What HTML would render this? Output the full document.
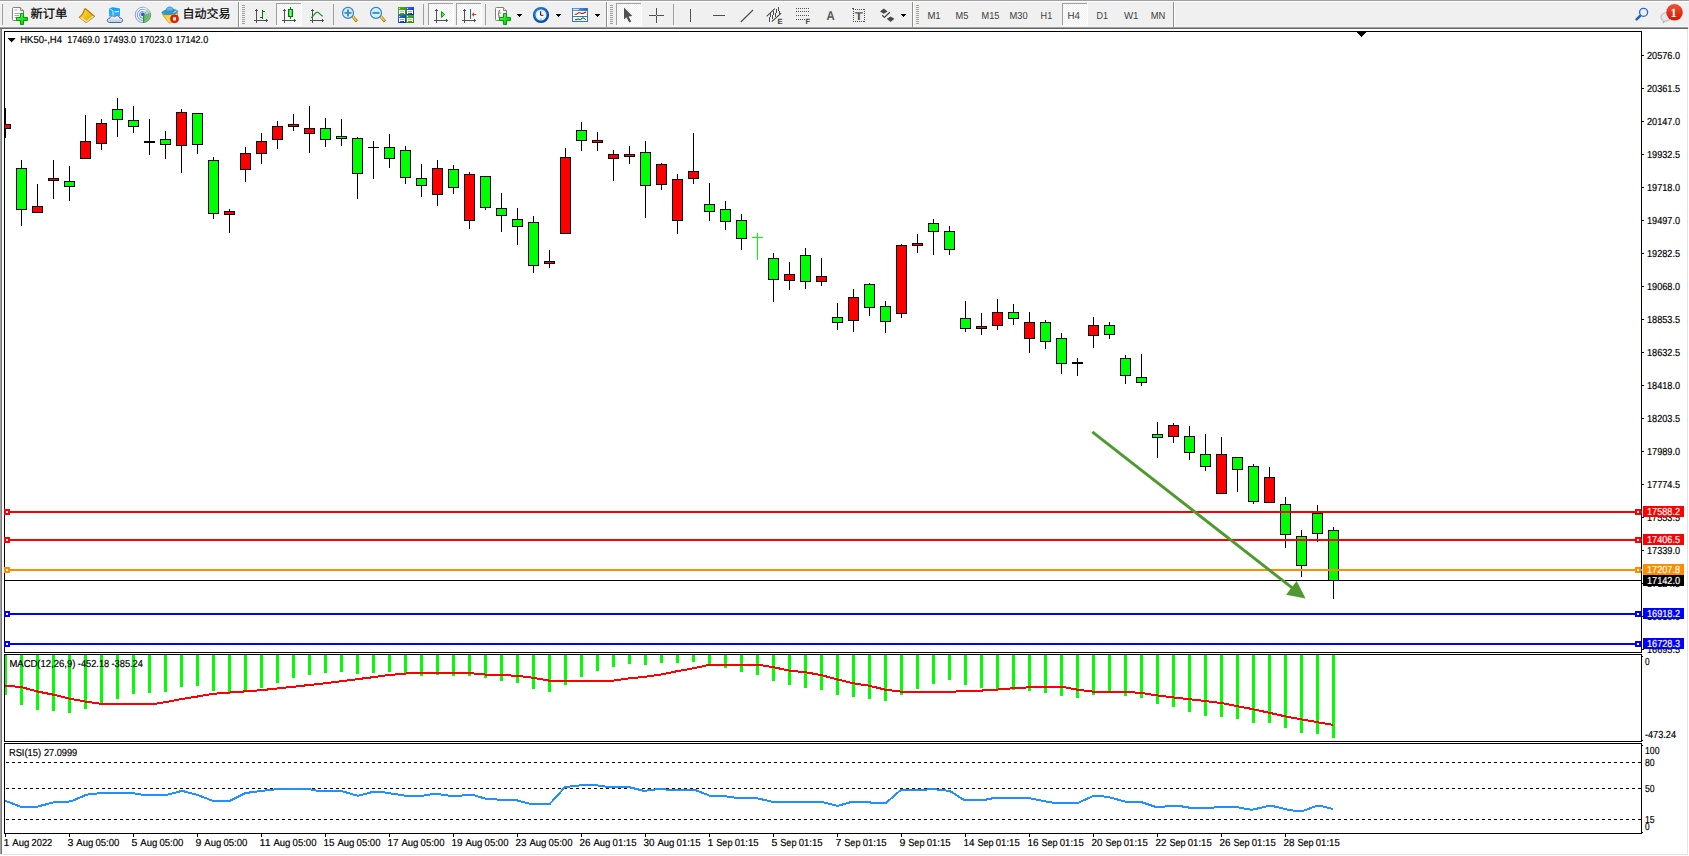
<!DOCTYPE html>
<html><head><meta charset="utf-8"><title>HK50-,H4</title>
<style>
html,body{margin:0;padding:0;background:#fff;overflow:hidden}
body{width:1689px;height:856px;position:relative;font-family:'Liberation Sans','Noto Sans CJK SC',sans-serif}
#tb{position:absolute;left:0;top:0;width:1689px;height:29px}
</style></head><body>
<svg width="1689" height="856" viewBox="0 0 1689 856" style="position:absolute;left:0;top:0" font-family="'Liberation Sans','Noto Sans CJK SC',sans-serif" text-rendering="geometricPrecision">
<defs><clipPath id="cm"><rect x="5" y="32" width="1636" height="620"/></clipPath><clipPath id="cd"><rect x="5" y="655" width="1636" height="86"/></clipPath><clipPath id="cr"><rect x="5" y="744" width="1636" height="89"/></clipPath></defs>
<g shape-rendering="crispEdges">
<rect x="0" y="0" width="1689" height="856" fill="#fff"/>
<rect x="0" y="28" width="1" height="826" fill="#a0a0a0"/>
<rect x="1" y="28" width="1" height="826" fill="#787878"/>
<rect x="1687" y="29" width="1" height="826" fill="#e3e3e3"/>
<rect x="0" y="854" width="1688" height="1" fill="#e3e3e3"/>
<rect x="4" y="31" width="1638" height="1" fill="#000"/>
<rect x="4" y="31" width="1" height="803" fill="#000"/>
<rect x="1641" y="31" width="1" height="803" fill="#000"/>
<rect x="4" y="652" width="1638" height="1" fill="#000"/>
<rect x="4" y="653" width="1638" height="1" fill="#fff"/>
<rect x="4" y="654" width="1638" height="1" fill="#000"/>
<rect x="4" y="741" width="1638" height="1" fill="#000"/>
<rect x="4" y="742" width="1638" height="1" fill="#fff"/>
<rect x="4" y="743" width="1638" height="1" fill="#000"/>
<rect x="4" y="833" width="1638" height="1" fill="#000"/>
</g>
<g clip-path="url(#cm)" shape-rendering="crispEdges">
<rect x="5" y="108" width="1" height="30" fill="#000"/>
<rect x="0" y="124" width="11" height="5" fill="#000"/>
<rect x="1" y="125" width="9" height="3" fill="#ff0000"/>
<rect x="21" y="160" width="1" height="66" fill="#000"/>
<rect x="16" y="168" width="11" height="42" fill="#000"/>
<rect x="17" y="169" width="9" height="40" fill="#00ff00"/>
<rect x="37" y="184" width="1" height="29" fill="#000"/>
<rect x="32" y="206" width="11" height="7" fill="#000"/>
<rect x="33" y="207" width="9" height="5" fill="#ff0000"/>
<rect x="53" y="160" width="1" height="39" fill="#000"/>
<rect x="48" y="178" width="11" height="3" fill="#000"/>
<rect x="49" y="179" width="9" height="1" fill="#ff0000"/>
<rect x="69" y="166" width="1" height="35" fill="#000"/>
<rect x="64" y="181" width="11" height="6" fill="#000"/>
<rect x="65" y="182" width="9" height="4" fill="#00ff00"/>
<rect x="85" y="115" width="1" height="44" fill="#000"/>
<rect x="80" y="141" width="11" height="18" fill="#000"/>
<rect x="81" y="142" width="9" height="16" fill="#ff0000"/>
<rect x="101" y="119" width="1" height="31" fill="#000"/>
<rect x="96" y="123" width="11" height="21" fill="#000"/>
<rect x="97" y="124" width="9" height="19" fill="#ff0000"/>
<rect x="117" y="98" width="1" height="39" fill="#000"/>
<rect x="112" y="109" width="11" height="11" fill="#000"/>
<rect x="113" y="110" width="9" height="9" fill="#00ff00"/>
<rect x="133" y="106" width="1" height="27" fill="#000"/>
<rect x="128" y="120" width="11" height="7" fill="#000"/>
<rect x="129" y="121" width="9" height="5" fill="#00ff00"/>
<rect x="149" y="119" width="1" height="36" fill="#000"/>
<rect x="144" y="141" width="11" height="2" fill="#000"/>
<rect x="165" y="131" width="1" height="28" fill="#000"/>
<rect x="160" y="139" width="11" height="6" fill="#000"/>
<rect x="161" y="140" width="9" height="4" fill="#00ff00"/>
<rect x="181" y="109" width="1" height="64" fill="#000"/>
<rect x="176" y="112" width="11" height="34" fill="#000"/>
<rect x="177" y="113" width="9" height="32" fill="#ff0000"/>
<rect x="197" y="113" width="1" height="41" fill="#000"/>
<rect x="192" y="113" width="11" height="32" fill="#000"/>
<rect x="193" y="114" width="9" height="30" fill="#00ff00"/>
<rect x="213" y="157" width="1" height="62" fill="#000"/>
<rect x="208" y="160" width="11" height="54" fill="#000"/>
<rect x="209" y="161" width="9" height="52" fill="#00ff00"/>
<rect x="229" y="209" width="1" height="24" fill="#000"/>
<rect x="224" y="211" width="11" height="4" fill="#000"/>
<rect x="225" y="212" width="9" height="2" fill="#ff0000"/>
<rect x="245" y="147" width="1" height="35" fill="#000"/>
<rect x="240" y="153" width="11" height="17" fill="#000"/>
<rect x="241" y="154" width="9" height="15" fill="#ff0000"/>
<rect x="261" y="133" width="1" height="31" fill="#000"/>
<rect x="256" y="141" width="11" height="13" fill="#000"/>
<rect x="257" y="142" width="9" height="11" fill="#ff0000"/>
<rect x="277" y="121" width="1" height="28" fill="#000"/>
<rect x="272" y="126" width="11" height="14" fill="#000"/>
<rect x="273" y="127" width="9" height="12" fill="#ff0000"/>
<rect x="293" y="114" width="1" height="17" fill="#000"/>
<rect x="288" y="124" width="11" height="3" fill="#000"/>
<rect x="289" y="125" width="9" height="1" fill="#ff0000"/>
<rect x="309" y="106" width="1" height="47" fill="#000"/>
<rect x="304" y="128" width="11" height="6" fill="#000"/>
<rect x="305" y="129" width="9" height="4" fill="#ff0000"/>
<rect x="325" y="118" width="1" height="29" fill="#000"/>
<rect x="320" y="128" width="11" height="12" fill="#000"/>
<rect x="321" y="129" width="9" height="10" fill="#00ff00"/>
<rect x="341" y="119" width="1" height="27" fill="#000"/>
<rect x="336" y="136" width="11" height="3" fill="#000"/>
<rect x="337" y="137" width="9" height="1" fill="#00ff00"/>
<rect x="357" y="137" width="1" height="62" fill="#000"/>
<rect x="352" y="138" width="11" height="36" fill="#000"/>
<rect x="353" y="139" width="9" height="34" fill="#00ff00"/>
<rect x="373" y="141" width="1" height="38" fill="#000"/>
<rect x="368" y="147" width="11" height="1" fill="#000"/>
<rect x="389" y="134" width="1" height="34" fill="#000"/>
<rect x="384" y="147" width="11" height="12" fill="#000"/>
<rect x="385" y="148" width="9" height="10" fill="#00ff00"/>
<rect x="405" y="146" width="1" height="38" fill="#000"/>
<rect x="400" y="150" width="11" height="28" fill="#000"/>
<rect x="401" y="151" width="9" height="26" fill="#00ff00"/>
<rect x="421" y="164" width="1" height="33" fill="#000"/>
<rect x="416" y="178" width="11" height="8" fill="#000"/>
<rect x="417" y="179" width="9" height="6" fill="#00ff00"/>
<rect x="437" y="160" width="1" height="46" fill="#000"/>
<rect x="432" y="168" width="11" height="27" fill="#000"/>
<rect x="433" y="169" width="9" height="25" fill="#ff0000"/>
<rect x="453" y="165" width="1" height="29" fill="#000"/>
<rect x="448" y="169" width="11" height="19" fill="#000"/>
<rect x="449" y="170" width="9" height="17" fill="#00ff00"/>
<rect x="469" y="172" width="1" height="57" fill="#000"/>
<rect x="464" y="174" width="11" height="47" fill="#000"/>
<rect x="465" y="175" width="9" height="45" fill="#ff0000"/>
<rect x="485" y="176" width="1" height="34" fill="#000"/>
<rect x="480" y="176" width="11" height="32" fill="#000"/>
<rect x="481" y="177" width="9" height="30" fill="#00ff00"/>
<rect x="501" y="193" width="1" height="39" fill="#000"/>
<rect x="496" y="208" width="11" height="8" fill="#000"/>
<rect x="497" y="209" width="9" height="6" fill="#00ff00"/>
<rect x="517" y="208" width="1" height="37" fill="#000"/>
<rect x="512" y="219" width="11" height="8" fill="#000"/>
<rect x="513" y="220" width="9" height="6" fill="#00ff00"/>
<rect x="533" y="216" width="1" height="57" fill="#000"/>
<rect x="528" y="222" width="11" height="44" fill="#000"/>
<rect x="529" y="223" width="9" height="42" fill="#00ff00"/>
<rect x="549" y="250" width="1" height="18" fill="#000"/>
<rect x="544" y="261" width="11" height="3" fill="#000"/>
<rect x="545" y="262" width="9" height="1" fill="#ff0000"/>
<rect x="565" y="148" width="1" height="86" fill="#000"/>
<rect x="560" y="157" width="11" height="77" fill="#000"/>
<rect x="561" y="158" width="9" height="75" fill="#ff0000"/>
<rect x="581" y="122" width="1" height="29" fill="#000"/>
<rect x="576" y="130" width="11" height="11" fill="#000"/>
<rect x="577" y="131" width="9" height="9" fill="#00ff00"/>
<rect x="597" y="132" width="1" height="19" fill="#000"/>
<rect x="592" y="140" width="11" height="3" fill="#000"/>
<rect x="593" y="141" width="9" height="1" fill="#ff0000"/>
<rect x="613" y="150" width="1" height="31" fill="#000"/>
<rect x="608" y="154" width="11" height="5" fill="#000"/>
<rect x="609" y="155" width="9" height="3" fill="#ff0000"/>
<rect x="629" y="146" width="1" height="18" fill="#000"/>
<rect x="624" y="154" width="11" height="3" fill="#000"/>
<rect x="625" y="155" width="9" height="1" fill="#ff0000"/>
<rect x="645" y="141" width="1" height="77" fill="#000"/>
<rect x="640" y="152" width="11" height="34" fill="#000"/>
<rect x="641" y="153" width="9" height="32" fill="#00ff00"/>
<rect x="661" y="163" width="1" height="27" fill="#000"/>
<rect x="656" y="164" width="11" height="21" fill="#000"/>
<rect x="657" y="165" width="9" height="19" fill="#ff0000"/>
<rect x="677" y="174" width="1" height="60" fill="#000"/>
<rect x="672" y="179" width="11" height="42" fill="#000"/>
<rect x="673" y="180" width="9" height="40" fill="#ff0000"/>
<rect x="693" y="133" width="1" height="51" fill="#000"/>
<rect x="688" y="171" width="11" height="8" fill="#000"/>
<rect x="689" y="172" width="9" height="6" fill="#ff0000"/>
<rect x="709" y="183" width="1" height="38" fill="#000"/>
<rect x="704" y="204" width="11" height="8" fill="#000"/>
<rect x="705" y="205" width="9" height="6" fill="#00ff00"/>
<rect x="725" y="201" width="1" height="29" fill="#000"/>
<rect x="720" y="209" width="11" height="13" fill="#000"/>
<rect x="721" y="210" width="9" height="11" fill="#00ff00"/>
<rect x="741" y="214" width="1" height="36" fill="#000"/>
<rect x="736" y="220" width="11" height="19" fill="#000"/>
<rect x="737" y="221" width="9" height="17" fill="#00ff00"/>
<rect x="757" y="233" width="1" height="27" fill="#00ff00"/>
<rect x="752" y="237" width="11" height="1" fill="#00ff00"/>
<rect x="773" y="253" width="1" height="49" fill="#000"/>
<rect x="768" y="258" width="11" height="22" fill="#000"/>
<rect x="769" y="259" width="9" height="20" fill="#00ff00"/>
<rect x="789" y="262" width="1" height="28" fill="#000"/>
<rect x="784" y="274" width="11" height="7" fill="#000"/>
<rect x="785" y="275" width="9" height="5" fill="#ff0000"/>
<rect x="805" y="248" width="1" height="41" fill="#000"/>
<rect x="800" y="255" width="11" height="27" fill="#000"/>
<rect x="801" y="256" width="9" height="25" fill="#00ff00"/>
<rect x="821" y="258" width="1" height="28" fill="#000"/>
<rect x="816" y="276" width="11" height="6" fill="#000"/>
<rect x="817" y="277" width="9" height="4" fill="#ff0000"/>
<rect x="837" y="303" width="1" height="27" fill="#000"/>
<rect x="832" y="317" width="11" height="6" fill="#000"/>
<rect x="833" y="318" width="9" height="4" fill="#00ff00"/>
<rect x="853" y="289" width="1" height="43" fill="#000"/>
<rect x="848" y="297" width="11" height="24" fill="#000"/>
<rect x="849" y="298" width="9" height="22" fill="#ff0000"/>
<rect x="869" y="283" width="1" height="33" fill="#000"/>
<rect x="864" y="284" width="11" height="24" fill="#000"/>
<rect x="865" y="285" width="9" height="22" fill="#00ff00"/>
<rect x="885" y="301" width="1" height="32" fill="#000"/>
<rect x="880" y="306" width="11" height="16" fill="#000"/>
<rect x="881" y="307" width="9" height="14" fill="#00ff00"/>
<rect x="901" y="244" width="1" height="74" fill="#000"/>
<rect x="896" y="245" width="11" height="69" fill="#000"/>
<rect x="897" y="246" width="9" height="67" fill="#ff0000"/>
<rect x="917" y="234" width="1" height="19" fill="#000"/>
<rect x="912" y="243" width="11" height="3" fill="#000"/>
<rect x="913" y="244" width="9" height="1" fill="#ff0000"/>
<rect x="933" y="219" width="1" height="36" fill="#000"/>
<rect x="928" y="223" width="11" height="9" fill="#000"/>
<rect x="929" y="224" width="9" height="7" fill="#00ff00"/>
<rect x="949" y="226" width="1" height="29" fill="#000"/>
<rect x="944" y="231" width="11" height="19" fill="#000"/>
<rect x="945" y="232" width="9" height="17" fill="#00ff00"/>
<rect x="965" y="301" width="1" height="31" fill="#000"/>
<rect x="960" y="318" width="11" height="11" fill="#000"/>
<rect x="961" y="319" width="9" height="9" fill="#00ff00"/>
<rect x="981" y="313" width="1" height="22" fill="#000"/>
<rect x="976" y="326" width="11" height="3" fill="#000"/>
<rect x="977" y="327" width="9" height="1" fill="#ff0000"/>
<rect x="997" y="299" width="1" height="31" fill="#000"/>
<rect x="992" y="312" width="11" height="14" fill="#000"/>
<rect x="993" y="313" width="9" height="12" fill="#ff0000"/>
<rect x="1013" y="304" width="1" height="21" fill="#000"/>
<rect x="1008" y="312" width="11" height="7" fill="#000"/>
<rect x="1009" y="313" width="9" height="5" fill="#00ff00"/>
<rect x="1029" y="312" width="1" height="41" fill="#000"/>
<rect x="1024" y="322" width="11" height="17" fill="#000"/>
<rect x="1025" y="323" width="9" height="15" fill="#ff0000"/>
<rect x="1045" y="320" width="1" height="29" fill="#000"/>
<rect x="1040" y="322" width="11" height="20" fill="#000"/>
<rect x="1041" y="323" width="9" height="18" fill="#00ff00"/>
<rect x="1061" y="333" width="1" height="41" fill="#000"/>
<rect x="1056" y="338" width="11" height="26" fill="#000"/>
<rect x="1057" y="339" width="9" height="24" fill="#00ff00"/>
<rect x="1077" y="358" width="1" height="18" fill="#000"/>
<rect x="1072" y="362" width="11" height="2" fill="#000"/>
<rect x="1093" y="317" width="1" height="31" fill="#000"/>
<rect x="1088" y="325" width="11" height="11" fill="#000"/>
<rect x="1089" y="326" width="9" height="9" fill="#ff0000"/>
<rect x="1109" y="322" width="1" height="17" fill="#000"/>
<rect x="1104" y="325" width="11" height="10" fill="#000"/>
<rect x="1105" y="326" width="9" height="8" fill="#00ff00"/>
<rect x="1125" y="355" width="1" height="29" fill="#000"/>
<rect x="1120" y="358" width="11" height="18" fill="#000"/>
<rect x="1121" y="359" width="9" height="16" fill="#00ff00"/>
<rect x="1141" y="354" width="1" height="32" fill="#000"/>
<rect x="1136" y="377" width="11" height="6" fill="#000"/>
<rect x="1137" y="378" width="9" height="4" fill="#00ff00"/>
<rect x="1157" y="422" width="1" height="36" fill="#000"/>
<rect x="1152" y="434" width="11" height="4" fill="#000"/>
<rect x="1153" y="435" width="9" height="2" fill="#00ff00"/>
<rect x="1173" y="423" width="1" height="20" fill="#000"/>
<rect x="1168" y="425" width="11" height="12" fill="#000"/>
<rect x="1169" y="426" width="9" height="10" fill="#ff0000"/>
<rect x="1189" y="426" width="1" height="34" fill="#000"/>
<rect x="1184" y="436" width="11" height="17" fill="#000"/>
<rect x="1185" y="437" width="9" height="15" fill="#00ff00"/>
<rect x="1205" y="434" width="1" height="37" fill="#000"/>
<rect x="1200" y="454" width="11" height="13" fill="#000"/>
<rect x="1201" y="455" width="9" height="11" fill="#00ff00"/>
<rect x="1221" y="437" width="1" height="57" fill="#000"/>
<rect x="1216" y="454" width="11" height="40" fill="#000"/>
<rect x="1217" y="455" width="9" height="38" fill="#ff0000"/>
<rect x="1237" y="457" width="1" height="35" fill="#000"/>
<rect x="1232" y="457" width="11" height="13" fill="#000"/>
<rect x="1233" y="458" width="9" height="11" fill="#00ff00"/>
<rect x="1253" y="464" width="1" height="40" fill="#000"/>
<rect x="1248" y="466" width="11" height="36" fill="#000"/>
<rect x="1249" y="467" width="9" height="34" fill="#00ff00"/>
<rect x="1269" y="467" width="1" height="36" fill="#000"/>
<rect x="1264" y="477" width="11" height="26" fill="#000"/>
<rect x="1265" y="478" width="9" height="24" fill="#ff0000"/>
<rect x="1285" y="497" width="1" height="51" fill="#000"/>
<rect x="1280" y="504" width="11" height="31" fill="#000"/>
<rect x="1281" y="505" width="9" height="29" fill="#00ff00"/>
<rect x="1301" y="530" width="1" height="47" fill="#000"/>
<rect x="1296" y="536" width="11" height="30" fill="#000"/>
<rect x="1297" y="537" width="9" height="28" fill="#00ff00"/>
<rect x="1317" y="505" width="1" height="37" fill="#000"/>
<rect x="1312" y="513" width="11" height="21" fill="#000"/>
<rect x="1313" y="514" width="9" height="19" fill="#00ff00"/>
<rect x="1333" y="527" width="1" height="72" fill="#000"/>
<rect x="1328" y="530" width="11" height="51" fill="#000"/>
<rect x="1329" y="531" width="9" height="49" fill="#00ff00"/>
</g>
<g shape-rendering="crispEdges">
<rect x="5" y="511" width="1637" height="2" fill="#ff0000"/>
<rect x="4" y="509" width="6" height="6" fill="#ff0000"/>
<rect x="6" y="511" width="2" height="2" fill="#fff"/>
<rect x="1635" y="509" width="6" height="6" fill="#ff0000"/>
<rect x="1637" y="511" width="2" height="2" fill="#fff"/>
<rect x="5" y="539" width="1637" height="2" fill="#ff0000"/>
<rect x="4" y="537" width="6" height="6" fill="#ff0000"/>
<rect x="6" y="539" width="2" height="2" fill="#fff"/>
<rect x="1635" y="537" width="6" height="6" fill="#ff0000"/>
<rect x="1637" y="539" width="2" height="2" fill="#fff"/>
<rect x="5" y="569" width="1637" height="2" fill="#ff8c00"/>
<rect x="4" y="567" width="6" height="6" fill="#ff8c00"/>
<rect x="6" y="569" width="2" height="2" fill="#fff"/>
<rect x="1635" y="567" width="6" height="6" fill="#ff8c00"/>
<rect x="1637" y="569" width="2" height="2" fill="#fff"/>
<rect x="5" y="580" width="1637" height="1" fill="#000000"/>
<rect x="5" y="613" width="1637" height="2" fill="#0000ff"/>
<rect x="4" y="611" width="6" height="6" fill="#0000ff"/>
<rect x="6" y="613" width="2" height="2" fill="#fff"/>
<rect x="1635" y="611" width="6" height="6" fill="#0000ff"/>
<rect x="1637" y="613" width="2" height="2" fill="#fff"/>
<rect x="5" y="643" width="1637" height="2" fill="#0000ff"/>
<rect x="4" y="641" width="6" height="6" fill="#0000ff"/>
<rect x="6" y="643" width="2" height="2" fill="#fff"/>
<rect x="1635" y="641" width="6" height="6" fill="#0000ff"/>
<rect x="1637" y="643" width="2" height="2" fill="#fff"/>
</g>
<g clip-path="url(#cm)" shape-rendering="crispEdges">
<rect x="1285" y="497" width="1" height="51" fill="#000"/>
<rect x="1280" y="504" width="11" height="31" fill="#000"/>
<rect x="1281" y="505" width="9" height="29" fill="#00ff00"/>
<rect x="1301" y="530" width="1" height="47" fill="#000"/>
<rect x="1296" y="536" width="11" height="30" fill="#000"/>
<rect x="1297" y="537" width="9" height="28" fill="#00ff00"/>
<rect x="1317" y="505" width="1" height="37" fill="#000"/>
<rect x="1312" y="513" width="11" height="21" fill="#000"/>
<rect x="1313" y="514" width="9" height="19" fill="#00ff00"/>
<rect x="1333" y="527" width="1" height="72" fill="#000"/>
<rect x="1328" y="530" width="11" height="51" fill="#000"/>
<rect x="1329" y="531" width="9" height="49" fill="#00ff00"/>
</g>
<g shape-rendering="crispEdges">
<rect x="1279" y="511" width="62" height="2" fill="#ff0000"/>
<rect x="1279" y="539" width="62" height="2" fill="#ff0000"/>
<rect x="1279" y="569" width="62" height="2" fill="#ff8c00"/>
<rect x="1279" y="580" width="62" height="1" fill="#000000"/>
<rect x="1279" y="613" width="62" height="2" fill="#0000ff"/>
<rect x="1279" y="643" width="62" height="2" fill="#0000ff"/>
</g>
<g fill="#4f9a2f" stroke="none">
<path d="M1091.4,433.1 L1093.2,430.7 L1294.4,587.7 L1292.6,590.1 Z"/>
<path d="M1305.6,598.4 L1286.1,594.8 L1296.7,581.0 Z"/>
</g>
<g clip-path="url(#cd)" shape-rendering="crispEdges">
<rect x="4" y="655" width="3" height="40" fill="#00ff00"/>
<rect x="20" y="655" width="3" height="50" fill="#00ff00"/>
<rect x="36" y="655" width="3" height="55" fill="#00ff00"/>
<rect x="52" y="655" width="3" height="56" fill="#00ff00"/>
<rect x="68" y="655" width="3" height="58" fill="#00ff00"/>
<rect x="84" y="655" width="3" height="54" fill="#00ff00"/>
<rect x="100" y="655" width="3" height="48" fill="#00ff00"/>
<rect x="116" y="655" width="3" height="44" fill="#00ff00"/>
<rect x="132" y="655" width="3" height="39" fill="#00ff00"/>
<rect x="148" y="655" width="3" height="38" fill="#00ff00"/>
<rect x="164" y="655" width="3" height="37" fill="#00ff00"/>
<rect x="180" y="655" width="3" height="32" fill="#00ff00"/>
<rect x="196" y="655" width="3" height="31" fill="#00ff00"/>
<rect x="212" y="655" width="3" height="36" fill="#00ff00"/>
<rect x="228" y="655" width="3" height="38" fill="#00ff00"/>
<rect x="244" y="655" width="3" height="36" fill="#00ff00"/>
<rect x="260" y="655" width="3" height="33" fill="#00ff00"/>
<rect x="276" y="655" width="3" height="28" fill="#00ff00"/>
<rect x="292" y="655" width="3" height="23" fill="#00ff00"/>
<rect x="308" y="655" width="3" height="20" fill="#00ff00"/>
<rect x="324" y="655" width="3" height="18" fill="#00ff00"/>
<rect x="340" y="655" width="3" height="17" fill="#00ff00"/>
<rect x="356" y="655" width="3" height="19" fill="#00ff00"/>
<rect x="372" y="655" width="3" height="18" fill="#00ff00"/>
<rect x="388" y="655" width="3" height="17" fill="#00ff00"/>
<rect x="404" y="655" width="3" height="19" fill="#00ff00"/>
<rect x="420" y="655" width="3" height="21" fill="#00ff00"/>
<rect x="436" y="655" width="3" height="20" fill="#00ff00"/>
<rect x="452" y="655" width="3" height="21" fill="#00ff00"/>
<rect x="468" y="655" width="3" height="21" fill="#00ff00"/>
<rect x="484" y="655" width="3" height="23" fill="#00ff00"/>
<rect x="500" y="655" width="3" height="26" fill="#00ff00"/>
<rect x="516" y="655" width="3" height="28" fill="#00ff00"/>
<rect x="532" y="655" width="3" height="34" fill="#00ff00"/>
<rect x="548" y="655" width="3" height="37" fill="#00ff00"/>
<rect x="564" y="655" width="3" height="30" fill="#00ff00"/>
<rect x="580" y="655" width="3" height="22" fill="#00ff00"/>
<rect x="596" y="655" width="3" height="16" fill="#00ff00"/>
<rect x="612" y="655" width="3" height="12" fill="#00ff00"/>
<rect x="628" y="655" width="3" height="9" fill="#00ff00"/>
<rect x="644" y="655" width="3" height="10" fill="#00ff00"/>
<rect x="660" y="655" width="3" height="8" fill="#00ff00"/>
<rect x="676" y="655" width="3" height="8" fill="#00ff00"/>
<rect x="692" y="655" width="3" height="7" fill="#00ff00"/>
<rect x="708" y="655" width="3" height="10" fill="#00ff00"/>
<rect x="724" y="655" width="3" height="13" fill="#00ff00"/>
<rect x="740" y="655" width="3" height="17" fill="#00ff00"/>
<rect x="756" y="655" width="3" height="20" fill="#00ff00"/>
<rect x="772" y="655" width="3" height="26" fill="#00ff00"/>
<rect x="788" y="655" width="3" height="30" fill="#00ff00"/>
<rect x="804" y="655" width="3" height="33" fill="#00ff00"/>
<rect x="820" y="655" width="3" height="35" fill="#00ff00"/>
<rect x="836" y="655" width="3" height="40" fill="#00ff00"/>
<rect x="852" y="655" width="3" height="42" fill="#00ff00"/>
<rect x="868" y="655" width="3" height="44" fill="#00ff00"/>
<rect x="884" y="655" width="3" height="46" fill="#00ff00"/>
<rect x="900" y="655" width="3" height="40" fill="#00ff00"/>
<rect x="916" y="655" width="3" height="34" fill="#00ff00"/>
<rect x="932" y="655" width="3" height="29" fill="#00ff00"/>
<rect x="948" y="655" width="3" height="25" fill="#00ff00"/>
<rect x="964" y="655" width="3" height="30" fill="#00ff00"/>
<rect x="980" y="655" width="3" height="33" fill="#00ff00"/>
<rect x="996" y="655" width="3" height="35" fill="#00ff00"/>
<rect x="1012" y="655" width="3" height="35" fill="#00ff00"/>
<rect x="1028" y="655" width="3" height="36" fill="#00ff00"/>
<rect x="1044" y="655" width="3" height="38" fill="#00ff00"/>
<rect x="1060" y="655" width="3" height="41" fill="#00ff00"/>
<rect x="1076" y="655" width="3" height="43" fill="#00ff00"/>
<rect x="1092" y="655" width="3" height="40" fill="#00ff00"/>
<rect x="1108" y="655" width="3" height="38" fill="#00ff00"/>
<rect x="1124" y="655" width="3" height="41" fill="#00ff00"/>
<rect x="1140" y="655" width="3" height="43" fill="#00ff00"/>
<rect x="1156" y="655" width="3" height="49" fill="#00ff00"/>
<rect x="1172" y="655" width="3" height="52" fill="#00ff00"/>
<rect x="1188" y="655" width="3" height="57" fill="#00ff00"/>
<rect x="1204" y="655" width="3" height="61" fill="#00ff00"/>
<rect x="1220" y="655" width="3" height="62" fill="#00ff00"/>
<rect x="1236" y="655" width="3" height="64" fill="#00ff00"/>
<rect x="1252" y="655" width="3" height="68" fill="#00ff00"/>
<rect x="1268" y="655" width="3" height="68" fill="#00ff00"/>
<rect x="1284" y="655" width="3" height="73" fill="#00ff00"/>
<rect x="1300" y="655" width="3" height="78" fill="#00ff00"/>
<rect x="1316" y="655" width="3" height="79" fill="#00ff00"/>
<rect x="1332" y="655" width="3" height="83" fill="#00ff00"/>
</g>
<polyline clip-path="url(#cd)" points="5,685.7 21,687 37,691.4 53,694.6 69,698.5 85,701.5 101,703.8 155,703.8 165,702.2 181,699.2 197,696.6 213,693.8 229,692.6 245,691.4 261,690.2 277,688.5 293,686.8 309,685 325,683.3 341,681.3 357,679.2 373,677.2 389,675 405,673.6 421,672.5 453,672.6 469,673 485,674.5 501,675 517,675.8 533,677.8 549,680.6 613,680.6 629,678.4 645,676.8 661,674.5 677,671.2 693,668.4 709,664.9 725,664.6 757,664.6 773,667.1 789,670.5 805,672.2 821,675 837,679.4 853,683.2 869,685.7 885,689.6 901,691.6 917,691.8 949,691.8 965,691.1 981,690.6 997,689.6 1013,688.3 1029,687.3 1045,686.5 1061,686.5 1077,689.6 1093,691.6 1109,691.8 1125,691.8 1141,692.9 1157,695.4 1173,697.4 1189,699.2 1205,701 1221,703 1237,706.1 1253,709.2 1269,712.7 1285,716.3 1301,719.3 1317,722.1 1333,724.9" fill="none" stroke="#ff0000" stroke-width="2" stroke-linejoin="round" shape-rendering="crispEdges"/>
<g shape-rendering="crispEdges" stroke="#000" stroke-width="1" stroke-dasharray="3 3">
<line x1="6" y1="762.5" x2="1641" y2="762.5"/>
<line x1="6" y1="788.5" x2="1641" y2="788.5"/>
<line x1="6" y1="819.5" x2="1641" y2="819.5"/>
</g>
<polyline clip-path="url(#cr)" points="5,800.6 20.4,806.7 37,806.7 53.5,802.4 71,801.4 86.5,794.7 102,793 132,793 142.5,794.7 167,794.7 182,790.9 197,794.7 212.6,800.8 230,800.8 245.7,793 262,790.9 279,788.9 308,788.9 318,790.9 341,790.9 357.7,795.8 373,791.9 384,792.4 406,795.8 422.6,795.8 435,793.7 450.5,795.8 460.7,795.8 464.5,794.7 472,794.7 486,798.8 501.5,799.8 516.7,800.3 530.7,803.9 549.8,803.9 565,787.1 583,785.1 595.7,785.1 607,786.8 628.8,787.1 644,790.9 659.3,788.9 670.8,789.9 695,789.9 710,795.8 724,796 735.7,797.8 756,798 771.3,801.6 822,801.9 837.5,805.9 851.6,801.9 868,801.9 872,802.9 886,802.9 901,789.9 924,789.9 932,788.9 949.7,790.9 963.7,799.8 985,799.8 994,798 1028.6,798 1046.4,801.6 1054,802.9 1078,802.9 1093.5,795.8 1100,795.8 1110,797.5 1125.3,801.6 1140.6,801.9 1155.9,807 1163.5,807 1167.3,805.9 1178.8,805.9 1191.5,808 1211.9,808 1215.7,807 1236,807 1251.3,809.8 1259,808.2 1269,805.9 1274,806.4 1287,809.5 1294.6,810.8 1303.5,810.8 1316.3,805.9 1321.4,806.2 1333.3,809" fill="none" stroke="#1e90ff" stroke-width="2" stroke-linejoin="round" shape-rendering="crispEdges"/>
<g shape-rendering="crispEdges" fill="#000">
<rect x="1642" y="55" width="2" height="1"/>
<rect x="1642" y="88" width="2" height="1"/>
<rect x="1642" y="121" width="2" height="1"/>
<rect x="1642" y="154" width="2" height="1"/>
<rect x="1642" y="187" width="2" height="1"/>
<rect x="1642" y="220" width="2" height="1"/>
<rect x="1642" y="253" width="2" height="1"/>
<rect x="1642" y="286" width="2" height="1"/>
<rect x="1642" y="319" width="2" height="1"/>
<rect x="1642" y="352" width="2" height="1"/>
<rect x="1642" y="385" width="2" height="1"/>
<rect x="1642" y="418" width="2" height="1"/>
<rect x="1642" y="451" width="2" height="1"/>
<rect x="1642" y="484" width="2" height="1"/>
<rect x="1642" y="517" width="2" height="1"/>
<rect x="1642" y="550" width="2" height="1"/>
<rect x="1642" y="583" width="2" height="1"/>
<rect x="1642" y="616" width="2" height="1"/>
<rect x="1642" y="649" width="2" height="1"/>
<rect x="1642" y="656" width="1" height="1"/>
<rect x="1642" y="740" width="1" height="1"/>
<rect x="1642" y="745" width="1" height="1"/>
<rect x="1642" y="832" width="1" height="1"/>
<rect x="5" y="834" width="1" height="3"/>
<rect x="69" y="834" width="1" height="3"/>
<rect x="133" y="834" width="1" height="3"/>
<rect x="197" y="834" width="1" height="3"/>
<rect x="261" y="834" width="1" height="3"/>
<rect x="325" y="834" width="1" height="3"/>
<rect x="389" y="834" width="1" height="3"/>
<rect x="453" y="834" width="1" height="3"/>
<rect x="517" y="834" width="1" height="3"/>
<rect x="581" y="834" width="1" height="3"/>
<rect x="645" y="834" width="1" height="3"/>
<rect x="709" y="834" width="1" height="3"/>
<rect x="773" y="834" width="1" height="3"/>
<rect x="837" y="834" width="1" height="3"/>
<rect x="901" y="834" width="1" height="3"/>
<rect x="965" y="834" width="1" height="3"/>
<rect x="1029" y="834" width="1" height="3"/>
<rect x="1093" y="834" width="1" height="3"/>
<rect x="1157" y="834" width="1" height="3"/>
<rect x="1221" y="834" width="1" height="3"/>
<rect x="1285" y="834" width="1" height="3"/>
</g>
<g font-size="10.2" fill="#000" stroke="#000" stroke-width="0.18">
<text x="1647" y="59" textLength="33" lengthAdjust="spacingAndGlyphs">20576.0</text>
<text x="1647" y="92" textLength="33" lengthAdjust="spacingAndGlyphs">20361.5</text>
<text x="1647" y="125" textLength="33" lengthAdjust="spacingAndGlyphs">20147.0</text>
<text x="1647" y="158" textLength="33" lengthAdjust="spacingAndGlyphs">19932.5</text>
<text x="1647" y="191" textLength="33" lengthAdjust="spacingAndGlyphs">19718.0</text>
<text x="1647" y="224" textLength="33" lengthAdjust="spacingAndGlyphs">19497.0</text>
<text x="1647" y="257" textLength="33" lengthAdjust="spacingAndGlyphs">19282.5</text>
<text x="1647" y="290" textLength="33" lengthAdjust="spacingAndGlyphs">19068.0</text>
<text x="1647" y="323" textLength="33" lengthAdjust="spacingAndGlyphs">18853.5</text>
<text x="1647" y="356" textLength="33" lengthAdjust="spacingAndGlyphs">18632.5</text>
<text x="1647" y="389" textLength="33" lengthAdjust="spacingAndGlyphs">18418.0</text>
<text x="1647" y="422" textLength="33" lengthAdjust="spacingAndGlyphs">18203.5</text>
<text x="1647" y="455" textLength="33" lengthAdjust="spacingAndGlyphs">17989.0</text>
<text x="1647" y="488" textLength="33" lengthAdjust="spacingAndGlyphs">17774.5</text>
<text x="1647" y="521" textLength="33" lengthAdjust="spacingAndGlyphs">17553.5</text>
<text x="1647" y="554" textLength="33" lengthAdjust="spacingAndGlyphs">17339.0</text>
<text x="1647" y="587" textLength="33" lengthAdjust="spacingAndGlyphs">17124.5</text>
<text x="1647" y="620" textLength="33" lengthAdjust="spacingAndGlyphs">16910.0</text>
<text x="1647" y="653" textLength="33" lengthAdjust="spacingAndGlyphs">16695.5</text>
<text x="1645" y="665" textLength="4.6" lengthAdjust="spacingAndGlyphs">0</text>
<text x="1645" y="738" textLength="31" lengthAdjust="spacingAndGlyphs">-473.24</text>
<text x="1645" y="754" textLength="14.5" lengthAdjust="spacingAndGlyphs">100</text>
<text x="1645" y="766" textLength="9.6" lengthAdjust="spacingAndGlyphs">80</text>
<text x="1645" y="792" textLength="9.6" lengthAdjust="spacingAndGlyphs">50</text>
<text x="1645" y="823" textLength="9.6" lengthAdjust="spacingAndGlyphs">15</text>
<text x="1645" y="830" textLength="4.6" lengthAdjust="spacingAndGlyphs">0</text>
</g>
<g shape-rendering="crispEdges">
<rect x="1643" y="506" width="41" height="11" fill="#ff0000"/>
<rect x="1643" y="534" width="41" height="11" fill="#ff0000"/>
<rect x="1643" y="564" width="41" height="11" fill="#ff8c00"/>
<rect x="1643" y="575" width="41" height="11" fill="#000000"/>
<rect x="1643" y="608" width="41" height="11" fill="#0000ff"/>
<rect x="1643" y="638" width="41" height="11" fill="#0000ff"/>
</g>
<g font-size="10.2" fill="#fff" stroke="#fff" stroke-width="0.18">
<text x="1647" y="515" textLength="33" lengthAdjust="spacingAndGlyphs">17588.2</text>
<text x="1647" y="543" textLength="33" lengthAdjust="spacingAndGlyphs">17406.5</text>
<text x="1647" y="573" textLength="33" lengthAdjust="spacingAndGlyphs">17207.8</text>
<text x="1647" y="584" textLength="33" lengthAdjust="spacingAndGlyphs">17142.0</text>
<text x="1647" y="617" textLength="33" lengthAdjust="spacingAndGlyphs">16918.2</text>
<text x="1647" y="647" textLength="33" lengthAdjust="spacingAndGlyphs">16728.3</text>
</g>
<g font-size="10.2" fill="#000" stroke="#000" stroke-width="0.18">
<text x="3.6" y="846" textLength="5.9" lengthAdjust="spacingAndGlyphs">1</text>
<text x="12.3" y="846" textLength="17.0" lengthAdjust="spacingAndGlyphs">Aug</text>
<text x="31.5" y="846" textLength="20.8" lengthAdjust="spacingAndGlyphs">2022</text>
<text x="67.6" y="846" textLength="5.9" lengthAdjust="spacingAndGlyphs">3</text>
<text x="76.3" y="846" textLength="17.0" lengthAdjust="spacingAndGlyphs">Aug</text>
<text x="95.5" y="846" textLength="23.9" lengthAdjust="spacingAndGlyphs">05:00</text>
<text x="131.6" y="846" textLength="5.9" lengthAdjust="spacingAndGlyphs">5</text>
<text x="140.3" y="846" textLength="17.0" lengthAdjust="spacingAndGlyphs">Aug</text>
<text x="159.5" y="846" textLength="23.9" lengthAdjust="spacingAndGlyphs">05:00</text>
<text x="195.6" y="846" textLength="5.9" lengthAdjust="spacingAndGlyphs">9</text>
<text x="204.3" y="846" textLength="17.0" lengthAdjust="spacingAndGlyphs">Aug</text>
<text x="223.5" y="846" textLength="23.9" lengthAdjust="spacingAndGlyphs">05:00</text>
<text x="259.6" y="846" textLength="11.0" lengthAdjust="spacingAndGlyphs">11</text>
<text x="273.4" y="846" textLength="17.0" lengthAdjust="spacingAndGlyphs">Aug</text>
<text x="292.6" y="846" textLength="23.9" lengthAdjust="spacingAndGlyphs">05:00</text>
<text x="323.6" y="846" textLength="11.0" lengthAdjust="spacingAndGlyphs">15</text>
<text x="337.4" y="846" textLength="17.0" lengthAdjust="spacingAndGlyphs">Aug</text>
<text x="356.6" y="846" textLength="23.9" lengthAdjust="spacingAndGlyphs">05:00</text>
<text x="387.6" y="846" textLength="11.0" lengthAdjust="spacingAndGlyphs">17</text>
<text x="401.4" y="846" textLength="17.0" lengthAdjust="spacingAndGlyphs">Aug</text>
<text x="420.6" y="846" textLength="23.9" lengthAdjust="spacingAndGlyphs">05:00</text>
<text x="451.6" y="846" textLength="11.0" lengthAdjust="spacingAndGlyphs">19</text>
<text x="465.4" y="846" textLength="17.0" lengthAdjust="spacingAndGlyphs">Aug</text>
<text x="484.6" y="846" textLength="23.9" lengthAdjust="spacingAndGlyphs">05:00</text>
<text x="515.6" y="846" textLength="11.0" lengthAdjust="spacingAndGlyphs">23</text>
<text x="529.4" y="846" textLength="17.0" lengthAdjust="spacingAndGlyphs">Aug</text>
<text x="548.6" y="846" textLength="23.9" lengthAdjust="spacingAndGlyphs">05:00</text>
<text x="579.6" y="846" textLength="11.0" lengthAdjust="spacingAndGlyphs">26</text>
<text x="593.4" y="846" textLength="17.0" lengthAdjust="spacingAndGlyphs">Aug</text>
<text x="612.6" y="846" textLength="23.9" lengthAdjust="spacingAndGlyphs">01:15</text>
<text x="643.6" y="846" textLength="11.0" lengthAdjust="spacingAndGlyphs">30</text>
<text x="657.4" y="846" textLength="17.0" lengthAdjust="spacingAndGlyphs">Aug</text>
<text x="676.6" y="846" textLength="23.9" lengthAdjust="spacingAndGlyphs">01:15</text>
<text x="707.6" y="846" textLength="5.9" lengthAdjust="spacingAndGlyphs">1</text>
<text x="716.3" y="846" textLength="16.2" lengthAdjust="spacingAndGlyphs">Sep</text>
<text x="734.7" y="846" textLength="23.9" lengthAdjust="spacingAndGlyphs">01:15</text>
<text x="771.6" y="846" textLength="5.9" lengthAdjust="spacingAndGlyphs">5</text>
<text x="780.3" y="846" textLength="16.2" lengthAdjust="spacingAndGlyphs">Sep</text>
<text x="798.7" y="846" textLength="23.9" lengthAdjust="spacingAndGlyphs">01:15</text>
<text x="835.6" y="846" textLength="5.9" lengthAdjust="spacingAndGlyphs">7</text>
<text x="844.3" y="846" textLength="16.2" lengthAdjust="spacingAndGlyphs">Sep</text>
<text x="862.7" y="846" textLength="23.9" lengthAdjust="spacingAndGlyphs">01:15</text>
<text x="899.6" y="846" textLength="5.9" lengthAdjust="spacingAndGlyphs">9</text>
<text x="908.3" y="846" textLength="16.2" lengthAdjust="spacingAndGlyphs">Sep</text>
<text x="926.7" y="846" textLength="23.9" lengthAdjust="spacingAndGlyphs">01:15</text>
<text x="963.6" y="846" textLength="11.0" lengthAdjust="spacingAndGlyphs">14</text>
<text x="977.4" y="846" textLength="16.2" lengthAdjust="spacingAndGlyphs">Sep</text>
<text x="995.8" y="846" textLength="23.9" lengthAdjust="spacingAndGlyphs">01:15</text>
<text x="1027.6" y="846" textLength="11.0" lengthAdjust="spacingAndGlyphs">16</text>
<text x="1041.4" y="846" textLength="16.2" lengthAdjust="spacingAndGlyphs">Sep</text>
<text x="1059.8" y="846" textLength="23.9" lengthAdjust="spacingAndGlyphs">01:15</text>
<text x="1091.6" y="846" textLength="11.0" lengthAdjust="spacingAndGlyphs">20</text>
<text x="1105.4" y="846" textLength="16.2" lengthAdjust="spacingAndGlyphs">Sep</text>
<text x="1123.8" y="846" textLength="23.9" lengthAdjust="spacingAndGlyphs">01:15</text>
<text x="1155.6" y="846" textLength="11.0" lengthAdjust="spacingAndGlyphs">22</text>
<text x="1169.4" y="846" textLength="16.2" lengthAdjust="spacingAndGlyphs">Sep</text>
<text x="1187.8" y="846" textLength="23.9" lengthAdjust="spacingAndGlyphs">01:15</text>
<text x="1219.6" y="846" textLength="11.0" lengthAdjust="spacingAndGlyphs">26</text>
<text x="1233.4" y="846" textLength="16.2" lengthAdjust="spacingAndGlyphs">Sep</text>
<text x="1251.8" y="846" textLength="23.9" lengthAdjust="spacingAndGlyphs">01:15</text>
<text x="1283.6" y="846" textLength="11.0" lengthAdjust="spacingAndGlyphs">28</text>
<text x="1297.4" y="846" textLength="16.2" lengthAdjust="spacingAndGlyphs">Sep</text>
<text x="1315.8" y="846" textLength="23.9" lengthAdjust="spacingAndGlyphs">01:15</text>
</g>
<g font-size="10.2" fill="#000" stroke="#000" stroke-width="0.18">
<path d="M8,38 H15 V39 H14 V40 H13 V41 H12 V42 H11 V41 H10 V40 H9 V39 H8 Z" fill="#000" shape-rendering="crispEdges"/>
<text x="20.2" y="43" textLength="41.8" lengthAdjust="spacingAndGlyphs">HK50-,H4</text>
<text x="67.2" y="43" textLength="32.5" lengthAdjust="spacingAndGlyphs">17469.0</text>
<text x="103.2" y="43" textLength="33.0" lengthAdjust="spacingAndGlyphs">17493.0</text>
<text x="139.2" y="43" textLength="33.0" lengthAdjust="spacingAndGlyphs">17023.0</text>
<text x="175.4" y="43" textLength="32.8" lengthAdjust="spacingAndGlyphs">17142.0</text>
<text x="9.4" y="667" textLength="66.0" lengthAdjust="spacingAndGlyphs">MACD(12,26,9)</text>
<text x="77.8" y="667" textLength="31.4" lengthAdjust="spacingAndGlyphs">-452.18</text>
<text x="111.5" y="667" textLength="31.4" lengthAdjust="spacingAndGlyphs">-385.24</text>
<text x="8.9" y="756" textLength="32.2" lengthAdjust="spacingAndGlyphs">RSI(15)</text>
<text x="43.9" y="756" textLength="33.3" lengthAdjust="spacingAndGlyphs">27.0999</text>
</g>
<g shape-rendering="crispEdges" fill="#000"><rect x="1357" y="32" width="9" height="1"/><rect x="1358" y="33" width="7" height="1"/><rect x="1359" y="34" width="5" height="1"/><rect x="1360" y="35" width="3" height="1"/><rect x="1361" y="36" width="1" height="1"/></g>
</svg>
<div id="tb"><svg width="1689" height="29" viewBox="0 0 1689 29" style="position:absolute;left:0;top:0" font-family="'Liberation Sans','Noto Sans CJK SC',sans-serif" text-rendering="geometricPrecision">
<defs>
<linearGradient id="gplus" x1="0" y1="0" x2="1" y2="1"><stop offset="0" stop-color="#7dff7d"/><stop offset="0.5" stop-color="#22e622"/><stop offset="1" stop-color="#00b400"/></linearGradient>
<linearGradient id="gbook" x1="0" y1="0" x2="1" y2="1"><stop offset="0" stop-color="#ffe860"/><stop offset="0.5" stop-color="#f0c018"/><stop offset="1" stop-color="#d89a10"/></linearGradient>
<linearGradient id="gcloud" x1="0" y1="0" x2="0" y2="1"><stop offset="0" stop-color="#ffffff"/><stop offset="1" stop-color="#b8c6dc"/></linearGradient>
<linearGradient id="gbox" x1="0" y1="0" x2="0" y2="1"><stop offset="0" stop-color="#0a9cff"/><stop offset="1" stop-color="#35b6ff"/></linearGradient>
<linearGradient id="gred" x1="0" y1="0" x2="0" y2="1"><stop offset="0" stop-color="#ea5636"/><stop offset="1" stop-color="#d81400"/></linearGradient>
<linearGradient id="ghat" x1="0" y1="0" x2="0" y2="1"><stop offset="0" stop-color="#7cc8f0"/><stop offset="1" stop-color="#3a98d8"/></linearGradient>
<linearGradient id="gface" x1="0" y1="0" x2="1" y2="1"><stop offset="0" stop-color="#f0c020"/><stop offset="1" stop-color="#fff080"/></linearGradient>
<radialGradient id="gclock" cx="0.4" cy="0.35" r="0.7"><stop offset="0" stop-color="#30a0ff"/><stop offset="1" stop-color="#0048b0"/></radialGradient>
<linearGradient id="gcandle" x1="0" y1="0" x2="1" y2="0"><stop offset="0" stop-color="#20d040"/><stop offset="0.5" stop-color="#80ff90"/><stop offset="1" stop-color="#20d040"/></linearGradient>
<linearGradient id="ghandle" x1="0" y1="0" x2="1" y2="1"><stop offset="0" stop-color="#fff070"/><stop offset="1" stop-color="#d8b020"/></linearGradient>
<linearGradient id="ggreen" x1="0" y1="0" x2="1" y2="1"><stop offset="0" stop-color="#4cb418"/><stop offset="1" stop-color="#2a9008"/></linearGradient>
<linearGradient id="gblue" x1="0" y1="0" x2="1" y2="1"><stop offset="0" stop-color="#3a6cf0"/><stop offset="1" stop-color="#0828b8"/></linearGradient>
<linearGradient id="gtitle" x1="0" y1="0" x2="1" y2="0"><stop offset="0" stop-color="#6aa8e8"/><stop offset="1" stop-color="#2a68c0"/></linearGradient>
<pattern id="chk" width="2" height="2" patternUnits="userSpaceOnUse"><rect width="2" height="2" fill="#ffffff"/><rect width="1" height="1" fill="#f0f0f0"/><rect x="1" y="1" width="1" height="1" fill="#f0f0f0"/></pattern>
</defs>
<g shape-rendering="crispEdges">
<rect x="0" y="0" width="1689" height="1" fill="#a0a0a0"/>
<rect x="0" y="1" width="1689" height="1" fill="#ffffff"/>
<rect x="0" y="2" width="1689" height="24" fill="#f0f0f0"/>
<rect x="0" y="26" width="1689" height="1" fill="#f4f4f4"/>
<rect x="0" y="27" width="1688" height="1" fill="#a0a0a0"/>
<rect x="0" y="28" width="1688" height="1" fill="#696969"/>
<rect x="1688" y="27" width="1" height="2" fill="#e8e8e8"/>
<rect x="2" y="4" width="1" height="21" fill="#a0a0a0"/>
<rect x="238" y="2" width="1" height="25" fill="#909090"/>
<rect x="239" y="2" width="1" height="25" fill="#ffffff"/>
<rect x="242" y="5" width="3" height="1" fill="#a0a0a0"/>
<rect x="242" y="7" width="3" height="1" fill="#a0a0a0"/>
<rect x="242" y="9" width="3" height="1" fill="#a0a0a0"/>
<rect x="242" y="11" width="3" height="1" fill="#a0a0a0"/>
<rect x="242" y="13" width="3" height="1" fill="#a0a0a0"/>
<rect x="242" y="15" width="3" height="1" fill="#a0a0a0"/>
<rect x="242" y="17" width="3" height="1" fill="#a0a0a0"/>
<rect x="242" y="19" width="3" height="1" fill="#a0a0a0"/>
<rect x="242" y="21" width="3" height="1" fill="#a0a0a0"/>
<rect x="242" y="23" width="3" height="1" fill="#a0a0a0"/>
<rect x="333" y="4" width="1" height="21" fill="#a0a0a0"/>
<rect x="423" y="4" width="1" height="21" fill="#a0a0a0"/>
<rect x="485" y="4" width="1" height="21" fill="#a0a0a0"/>
<rect x="606" y="2" width="1" height="25" fill="#909090"/>
<rect x="607" y="2" width="1" height="25" fill="#ffffff"/>
<rect x="610" y="5" width="3" height="1" fill="#a0a0a0"/>
<rect x="610" y="7" width="3" height="1" fill="#a0a0a0"/>
<rect x="610" y="9" width="3" height="1" fill="#a0a0a0"/>
<rect x="610" y="11" width="3" height="1" fill="#a0a0a0"/>
<rect x="610" y="13" width="3" height="1" fill="#a0a0a0"/>
<rect x="610" y="15" width="3" height="1" fill="#a0a0a0"/>
<rect x="610" y="17" width="3" height="1" fill="#a0a0a0"/>
<rect x="610" y="19" width="3" height="1" fill="#a0a0a0"/>
<rect x="610" y="21" width="3" height="1" fill="#a0a0a0"/>
<rect x="610" y="23" width="3" height="1" fill="#a0a0a0"/>
<rect x="673" y="4" width="1" height="21" fill="#a0a0a0"/>
<rect x="912" y="2" width="1" height="25" fill="#909090"/>
<rect x="913" y="2" width="1" height="25" fill="#ffffff"/>
<rect x="916" y="5" width="3" height="1" fill="#a0a0a0"/>
<rect x="916" y="7" width="3" height="1" fill="#a0a0a0"/>
<rect x="916" y="9" width="3" height="1" fill="#a0a0a0"/>
<rect x="916" y="11" width="3" height="1" fill="#a0a0a0"/>
<rect x="916" y="13" width="3" height="1" fill="#a0a0a0"/>
<rect x="916" y="15" width="3" height="1" fill="#a0a0a0"/>
<rect x="916" y="17" width="3" height="1" fill="#a0a0a0"/>
<rect x="916" y="19" width="3" height="1" fill="#a0a0a0"/>
<rect x="916" y="21" width="3" height="1" fill="#a0a0a0"/>
<rect x="916" y="23" width="3" height="1" fill="#a0a0a0"/>
<rect x="1173" y="2" width="1" height="25" fill="#909090"/>
<rect x="1174" y="2" width="1" height="25" fill="#ffffff"/>
<rect x="276" y="3" width="26" height="23" fill="url(#chk)"/>
<rect x="276" y="3" width="25" height="1" fill="#a0a0a0"/>
<rect x="276" y="3" width="1" height="22" fill="#a0a0a0"/>
<rect x="301" y="3" width="1" height="23" fill="#ffffff"/>
<rect x="276" y="25" width="26" height="1" fill="#ffffff"/>
<rect x="428" y="3" width="26" height="23" fill="url(#chk)"/>
<rect x="428" y="3" width="25" height="1" fill="#a0a0a0"/>
<rect x="428" y="3" width="1" height="22" fill="#a0a0a0"/>
<rect x="453" y="3" width="1" height="23" fill="#ffffff"/>
<rect x="428" y="25" width="26" height="1" fill="#ffffff"/>
<rect x="456" y="3" width="26" height="23" fill="url(#chk)"/>
<rect x="456" y="3" width="25" height="1" fill="#a0a0a0"/>
<rect x="456" y="3" width="1" height="22" fill="#a0a0a0"/>
<rect x="481" y="3" width="1" height="23" fill="#ffffff"/>
<rect x="456" y="25" width="26" height="1" fill="#ffffff"/>
<rect x="616" y="3" width="26" height="23" fill="url(#chk)"/>
<rect x="616" y="3" width="25" height="1" fill="#a0a0a0"/>
<rect x="616" y="3" width="1" height="22" fill="#a0a0a0"/>
<rect x="641" y="3" width="1" height="23" fill="#ffffff"/>
<rect x="616" y="25" width="26" height="1" fill="#ffffff"/>
<rect x="1062" y="3" width="26" height="23" fill="url(#chk)"/>
<rect x="1062" y="3" width="25" height="1" fill="#a0a0a0"/>
<rect x="1062" y="3" width="1" height="22" fill="#a0a0a0"/>
<rect x="1087" y="3" width="1" height="23" fill="#ffffff"/>
<rect x="1062" y="25" width="26" height="1" fill="#ffffff"/>
<rect x="256" y="9" width="1" height="14" fill="#505050"/>
<rect x="255" y="10" width="3" height="1" fill="#505050"/>
<rect x="254" y="20" width="14" height="1" fill="#505050"/>
<rect x="266" y="19" width="1" height="3" fill="#505050"/>
<rect x="262" y="10" width="1" height="9" fill="#008000"/><rect x="263" y="11" width="2" height="1" fill="#008000"/><rect x="260" y="17" width="2" height="1" fill="#008000"/>
<rect x="284" y="9" width="1" height="14" fill="#505050"/>
<rect x="283" y="10" width="3" height="1" fill="#505050"/>
<rect x="282" y="20" width="14" height="1" fill="#505050"/>
<rect x="294" y="19" width="1" height="3" fill="#505050"/>
<rect x="290" y="7" width="1" height="12" fill="#008000"/><rect x="288" y="9" width="5" height="8" fill="#008000"/><rect x="289" y="10" width="3" height="6" fill="url(#gcandle)"/>
<rect x="312" y="9" width="1" height="14" fill="#505050"/>
<rect x="311" y="10" width="3" height="1" fill="#505050"/>
<rect x="310" y="20" width="14" height="1" fill="#505050"/>
<rect x="322" y="19" width="1" height="3" fill="#505050"/>
<rect x="436" y="9" width="1" height="14" fill="#505050"/>
<rect x="435" y="10" width="3" height="1" fill="#505050"/>
<rect x="434" y="20" width="14" height="1" fill="#505050"/>
<rect x="446" y="19" width="1" height="3" fill="#505050"/>
<rect x="464" y="9" width="1" height="14" fill="#505050"/>
<rect x="463" y="10" width="3" height="1" fill="#505050"/>
<rect x="462" y="20" width="14" height="1" fill="#505050"/>
<rect x="474" y="19" width="1" height="3" fill="#505050"/>
<rect x="470" y="9" width="1" height="10" fill="#1070a0"/>
<rect x="517" y="14" width="5" height="1" fill="#000"/>
<rect x="518" y="15" width="3" height="1" fill="#000"/>
<rect x="519" y="16" width="1" height="1" fill="#000"/>
<rect x="556" y="14" width="5" height="1" fill="#000"/>
<rect x="557" y="15" width="3" height="1" fill="#000"/>
<rect x="558" y="16" width="1" height="1" fill="#000"/>
<rect x="595" y="14" width="5" height="1" fill="#000"/>
<rect x="596" y="15" width="3" height="1" fill="#000"/>
<rect x="597" y="16" width="1" height="1" fill="#000"/>
<rect x="901" y="14" width="5" height="1" fill="#000"/>
<rect x="902" y="15" width="3" height="1" fill="#000"/>
<rect x="903" y="16" width="1" height="1" fill="#000"/>
<rect x="656" y="8" width="1" height="15" fill="#505050"/><rect x="649" y="15" width="15" height="1" fill="#505050"/><rect x="656" y="15" width="1" height="1" fill="#c8c8c8"/>
<rect x="690" y="9" width="1" height="13" fill="#505050"/>
<rect x="713" y="15" width="12" height="1" fill="#505050"/>
<rect x="796" y="8" width="1" height="1" fill="#505050"/>
<rect x="798" y="8" width="1" height="1" fill="#505050"/>
<rect x="800" y="8" width="1" height="1" fill="#505050"/>
<rect x="802" y="8" width="1" height="1" fill="#505050"/>
<rect x="804" y="8" width="1" height="1" fill="#505050"/>
<rect x="806" y="8" width="1" height="1" fill="#505050"/>
<rect x="808" y="8" width="1" height="1" fill="#505050"/>
<rect x="796" y="11" width="1" height="1" fill="#505050"/>
<rect x="798" y="11" width="1" height="1" fill="#505050"/>
<rect x="800" y="11" width="1" height="1" fill="#505050"/>
<rect x="802" y="11" width="1" height="1" fill="#505050"/>
<rect x="804" y="11" width="1" height="1" fill="#505050"/>
<rect x="806" y="11" width="1" height="1" fill="#505050"/>
<rect x="808" y="11" width="1" height="1" fill="#505050"/>
<rect x="796" y="15" width="1" height="1" fill="#505050"/>
<rect x="798" y="15" width="1" height="1" fill="#505050"/>
<rect x="800" y="15" width="1" height="1" fill="#505050"/>
<rect x="802" y="15" width="1" height="1" fill="#505050"/>
<rect x="804" y="15" width="1" height="1" fill="#505050"/>
<rect x="806" y="15" width="1" height="1" fill="#505050"/>
<rect x="808" y="15" width="1" height="1" fill="#505050"/>
<rect x="796" y="19" width="1" height="1" fill="#505050"/>
<rect x="798" y="19" width="1" height="1" fill="#505050"/>
<rect x="800" y="19" width="1" height="1" fill="#505050"/>
<rect x="802" y="19" width="1" height="1" fill="#505050"/>
<rect x="804" y="19" width="1" height="1" fill="#505050"/>
<rect x="853" y="9" width="1" height="1" fill="#505050"/><rect x="853" y="21" width="1" height="1" fill="#505050"/>
<rect x="855" y="9" width="1" height="1" fill="#505050"/><rect x="855" y="21" width="1" height="1" fill="#505050"/>
<rect x="857" y="9" width="1" height="1" fill="#505050"/><rect x="857" y="21" width="1" height="1" fill="#505050"/>
<rect x="859" y="9" width="1" height="1" fill="#505050"/><rect x="859" y="21" width="1" height="1" fill="#505050"/>
<rect x="861" y="9" width="1" height="1" fill="#505050"/><rect x="861" y="21" width="1" height="1" fill="#505050"/>
<rect x="863" y="9" width="1" height="1" fill="#505050"/><rect x="863" y="21" width="1" height="1" fill="#505050"/>
<rect x="853" y="9" width="1" height="1" fill="#505050"/><rect x="864" y="9" width="1" height="1" fill="#505050"/>
<rect x="853" y="11" width="1" height="1" fill="#505050"/><rect x="864" y="11" width="1" height="1" fill="#505050"/>
<rect x="853" y="13" width="1" height="1" fill="#505050"/><rect x="864" y="13" width="1" height="1" fill="#505050"/>
<rect x="853" y="15" width="1" height="1" fill="#505050"/><rect x="864" y="15" width="1" height="1" fill="#505050"/>
<rect x="853" y="17" width="1" height="1" fill="#505050"/><rect x="864" y="17" width="1" height="1" fill="#505050"/>
<rect x="853" y="19" width="1" height="1" fill="#505050"/><rect x="864" y="19" width="1" height="1" fill="#505050"/>
<rect x="853" y="21" width="1" height="1" fill="#505050"/><rect x="864" y="21" width="1" height="1" fill="#505050"/>
<rect x="852" y="8" width="2" height="1" fill="#505050"/>
<rect x="398" y="7" width="8" height="8" fill="url(#ggreen)"/>
<rect x="399" y="8" width="1" height="1" fill="#d8e8ff"/>
<rect x="399" y="10" width="6" height="4" fill="#ffffff"/>
<rect x="400" y="11" width="4" height="1" fill="#9ad070"/>
<rect x="400" y="13" width="4" height="1" fill="url(#ggreen)"/>
<rect x="406" y="7" width="8" height="8" fill="url(#gblue)"/>
<rect x="407" y="8" width="1" height="1" fill="#d8e8ff"/>
<rect x="407" y="10" width="6" height="4" fill="#ffffff"/>
<rect x="408" y="11" width="4" height="1" fill="#8aa4f0"/>
<rect x="408" y="13" width="4" height="1" fill="url(#gblue)"/>
<rect x="398" y="15" width="8" height="8" fill="url(#gblue)"/>
<rect x="399" y="16" width="1" height="1" fill="#d8e8ff"/>
<rect x="399" y="18" width="6" height="4" fill="#ffffff"/>
<rect x="400" y="19" width="4" height="1" fill="#8aa4f0"/>
<rect x="400" y="21" width="4" height="1" fill="url(#gblue)"/>
<rect x="406" y="15" width="8" height="8" fill="url(#ggreen)"/>
<rect x="407" y="16" width="1" height="1" fill="#d8e8ff"/>
<rect x="407" y="18" width="6" height="4" fill="#ffffff"/>
<rect x="408" y="19" width="4" height="1" fill="#9ad070"/>
<rect x="408" y="21" width="4" height="1" fill="url(#ggreen)"/>
<rect x="572" y="8" width="16" height="14" fill="#3a74c4"/>
<rect x="573" y="8" width="14" height="3" fill="url(#gtitle)"/><rect x="573" y="9" width="6" height="1" fill="#c8e0ff"/>
<rect x="573" y="11" width="14" height="5" fill="#ffffff"/><rect x="573" y="17" width="14" height="4" fill="#ffffff"/>
</g>
<g transform="translate(12,7)">
<path d="M1.5,0.5 H8.5 L11.5,3.5 V12.5 Q11.5,13.5 10.5,13.5 H1.5 Q0.5,13.5 0.5,12.5 V1.5 Q0.5,0.5 1.5,0.5 Z" fill="#ffffff" stroke="#808080" stroke-width="1"/>
<path d="M8.5,0.5 V3.5 H11.5" fill="#e8e8e8" stroke="#808080" stroke-width="1"/>
<g stroke="#a8a8a8" stroke-width="1"><path d="M2.5,3 H5"/><path d="M2.5,6.5 H8"/><path d="M2.5,8.5 H7"/><path d="M2.5,10.5 H5"/></g>
<path d="M8.5,6.5 H11.5 V10.5 H15.5 V13.5 H11.5 V17.5 H8.5 V13.5 H4.5 V10.5 H8.5 Z" fill="url(#gplus)" stroke="#00a000" stroke-width="1"/>
</g>
<g transform="translate(495,7)">
<path d="M1.5,0.5 H8.5 L11.5,3.5 V12.5 Q11.5,13.5 10.5,13.5 H1.5 Q0.5,13.5 0.5,12.5 V1.5 Q0.5,0.5 1.5,0.5 Z" fill="#ffffff" stroke="#808080" stroke-width="1"/>
<path d="M8.5,0.5 V3.5 H11.5" fill="#e8e8e8" stroke="#808080" stroke-width="1"/>
<path d="M5.2,3 C3.6,3 4.2,5.2 3.8,6.4 C3.6,7 3,7 3,7.2 C3,7.4 3.6,7.4 3.8,8 C4.2,9.2 3.6,11.4 5.2,11.4" fill="none" stroke="#403820" stroke-width="0.9"/><path d="M4,6 H6.4" stroke="#807860" stroke-width="0.7"/>
<path d="M8.5,6.5 H11.5 V10.5 H15.5 V13.5 H11.5 V17.5 H8.5 V13.5 H4.5 V10.5 H8.5 Z" fill="url(#gplus)" stroke="#00a000" stroke-width="1"/>
</g>
<path d="M85.4,8.7 L94.4,16.2 L86.4,22.4 L79.4,17.2 C82.6,14.8 83.8,12.4 84.4,9.3 Z" fill="url(#gbook)" stroke="#b87808" stroke-width="1.2" stroke-linejoin="round"/>
<path d="M80.4,17.4 L86.6,21.6 L93.6,16.2" fill="none" stroke="#f8e49a" stroke-width="1.5"/>
<path d="M87.4,21.7 L94.2,16.3" fill="none" stroke="#c09850" stroke-width="0.9" stroke-dasharray="1 0.7"/>
<path d="M109,8.5 L112.5,7.3 L120,8.5 V16.5 H109 Z" fill="url(#gbox)"/>
<path d="M109.5,8.8 L113,10.8 V16.5" fill="none" stroke="#e0f4ff" stroke-width="0.9"/>
<path d="M114.5,12 L119,11.4" stroke="#e8f8ff" stroke-width="1.2" fill="none"/>
<path d="M109.8,22.5 C106.3,22.5 106.6,18.2 109.8,18.3 C110,16 113.2,15.3 114.6,17 C116.2,14.6 119.4,15.8 119.6,18 C123.4,17.6 123.6,22.5 120.2,22.5 Z" fill="url(#gcloud)" stroke="#4a68a8" stroke-width="1"/>
<circle cx="142.9" cy="14.9" r="7.9" fill="#f6f6f4"/>
<path d="M143.4,15 L150.8,12.6 A7.9,7.9 0 0 1 143.4,22.8 Z" fill="#62b462" fill-opacity="0.8"/>
<path d="M143.4,15 L147.4,8.4 A7.9,7.9 0 0 1 150.8,12.6 Z" fill="#b4d8b4" fill-opacity="0.7"/>
<g fill="none" stroke-width="0.9">
<path d="M142.9,11.5 A3.4,3.4 0 0 0 142.9,18.3" stroke="#3c6cd8" stroke-opacity="0.9"/>
<path d="M142.9,11.5 A3.4,3.4 0 0 1 146.3,14.9" stroke="#5c8cb4" stroke-opacity="0.7200000000000001"/>
<path d="M146.3,14.9 A3.4,3.4 0 0 1 142.9,18.3" stroke="#3c8c5c" stroke-opacity="0.63"/>
<path d="M142.9,9.3 A5.6,5.6 0 0 0 142.9,20.5" stroke="#3c6cd8" stroke-opacity="0.75"/>
<path d="M142.9,9.3 A5.6,5.6 0 0 1 148.5,14.9" stroke="#5c8cb4" stroke-opacity="0.6000000000000001"/>
<path d="M148.5,14.9 A5.6,5.6 0 0 1 142.9,20.5" stroke="#3c8c5c" stroke-opacity="0.5249999999999999"/>
<path d="M142.9,7.2 A7.7,7.7 0 0 0 142.9,22.6" stroke="#3c6cd8" stroke-opacity="0.7"/>
<path d="M142.9,7.2 A7.7,7.7 0 0 1 150.6,14.9" stroke="#5c8cb4" stroke-opacity="0.5599999999999999"/>
<path d="M150.6,14.9 A7.7,7.7 0 0 1 142.9,22.6" stroke="#3c8c5c" stroke-opacity="0.48999999999999994"/>
</g>
<circle cx="142.8" cy="14.4" r="1.9" fill="#2c5cd0"/>
<rect x="143" y="15" width="1.2" height="7.8" fill="#18a418"/>
<path d="M162.4,14.4 L177.8,13.2 L177.4,16 L171,22.8 L168.8,22.8 Z" fill="url(#gface)" stroke="#c89810" stroke-width="0.8" stroke-linejoin="round"/>
<ellipse cx="169.9" cy="12" rx="8" ry="2.3" transform="rotate(-5 169.9 12)" fill="#3c9cdc" stroke="#2080b8" stroke-width="0.8"/>
<path d="M166,11.6 C165.6,9.4 166.6,7.2 169.6,7 C172.4,6.9 173.6,8.8 173.4,11 C171.6,12.4 168,12.6 166,11.6 Z" fill="url(#ghat)" stroke="#2080b8" stroke-width="0.8"/>
<path d="M173.4,12.8 L176.6,10.8" stroke="#d0f0ff" stroke-width="0.9" fill="none"/>
<circle cx="174.5" cy="18.8" r="4" fill="#e62600" stroke="#b41c00" stroke-width="0.8"/>
<rect x="173" y="17.4" width="3" height="3" fill="#ffffff"/>
<path d="M311.2,17.8 C313.5,16.5 315,12.2 317.2,12.2 C319.2,12.2 320.5,15.5 322.8,16.2" fill="none" stroke="#209030" stroke-width="1.2"/>
<path d="M441.5,11.6 L444.8,14.5 L441.5,17.4 Z" fill="#60e070" stroke="#00a000" stroke-width="1"/>
<path d="M471.6,14.5 L474,12.3 V13.9 H476.2 V15.1 H474 V16.7 Z" fill="#d84000"/>
<path d="M351.6,16.8 L353.2,15.4 L357.6,20.4 L355.8,22 Z" fill="url(#ghandle)" stroke="#b07808" stroke-width="0.9"/>
<circle cx="348" cy="12.9" r="5.5" fill="#d4f0fc" stroke="#3484d4" stroke-width="1.2"/>
<rect x="344.5" y="11.9" width="7" height="2" fill="#4890b8"/>
<rect x="347" y="9.4" width="2" height="7" fill="#4890b8"/>
<path d="M379.6,16.8 L381.2,15.4 L385.6,20.4 L383.8,22 Z" fill="url(#ghandle)" stroke="#b07808" stroke-width="0.9"/>
<circle cx="376" cy="12.9" r="5.5" fill="#d4f0fc" stroke="#3484d4" stroke-width="1.2"/>
<rect x="372.5" y="11.9" width="7" height="2" fill="#4890b8"/>
<circle cx="541" cy="15" r="6.8" fill="#f4f8ff" stroke="url(#gclock)" stroke-width="2.6"/>
<path d="M540.6,15.3 V11.2 M540.6,15.3 H543.4" stroke="#202020" stroke-width="1.1" fill="none"/>
<g fill="#8890a0"><circle cx="545.60" cy="15.00" r="0.42"/><circle cx="544.98" cy="17.30" r="0.42"/><circle cx="543.30" cy="18.98" r="0.42"/><circle cx="541.00" cy="19.60" r="0.42"/><circle cx="538.70" cy="18.98" r="0.42"/><circle cx="537.02" cy="17.30" r="0.42"/><circle cx="536.40" cy="15.00" r="0.42"/><circle cx="537.02" cy="12.70" r="0.42"/><circle cx="538.70" cy="11.02" r="0.42"/><circle cx="541.00" cy="10.40" r="0.42"/><circle cx="543.30" cy="11.02" r="0.42"/><circle cx="544.98" cy="12.70" r="0.42"/></g>
<rect x="540" y="18.6" width="2" height="0.8" fill="#60a8ff"/>
<path d="M574.5,14.2 H576.5 L578.5,12.8 H580 L581.5,13.4 H583 L585,12.4 H586.2" fill="none" stroke="#b02010" stroke-width="1.1"/>
<path d="M575,19.6 H576.5 L578,18.8 L579.5,19.6 L581,19.2 L583,17.6 L585.8,19.6" fill="none" stroke="#108020" stroke-width="1.1"/>
<path d="M624,7.6 V19.4 L626.4,17.2 L629.2,22.4 L631.2,21.4 L628.6,16.4 L632.4,15.9 Z" fill="#505050"/>
<path d="M740.8,22 L753,10" stroke="#505050" stroke-width="1.2" fill="none"/>
<g fill="#484848" shape-rendering="crispEdges"><rect x="770" y="13" width="1" height="4"/><rect x="769" y="17" width="1" height="5"/><rect x="773" y="11" width="1" height="4"/><rect x="772" y="15" width="1" height="4"/><rect x="776" y="9" width="1" height="4"/><rect x="775" y="13" width="1" height="4"/><rect x="778" y="7" width="1" height="4"/><rect x="779" y="11" width="1" height="4"/></g>
<g stroke="#484848" stroke-width="1.15" fill="none"><path d="M766.6,16.4 L774.9,8.7"/><path d="M771.8,21.6 L781.2,13.1"/></g>
<text x="777.6" y="24.2" font-size="7.5" font-weight="bold" fill="#404040">E</text>
<text x="805.4" y="24.2" font-size="7.5" font-weight="bold" fill="#404040">F</text>
<text x="826.5" y="19.9" font-size="12.8" font-weight="bold" fill="#585858" textLength="8.2" lengthAdjust="spacingAndGlyphs">A</text>
<text x="854.7" y="19.9" font-size="11.4" font-weight="bold" fill="#585858" textLength="8.2" lengthAdjust="spacingAndGlyphs">T</text>
<path d="M883.8,8.4 L887.6,11.6 L883.8,13.8 L880,11.6 Z" fill="#484848"/>
<path d="M890.6,22 L894.4,18.8 L890.6,16.4 L886.8,18.8 Z" fill="#484848"/>
<path d="M882.2,15.2 L884.4,17.4 L889.8,12.2" fill="none" stroke="#484848" stroke-width="1.3"/>
<path d="M1640.4,15.6 L1636.6,19.4" stroke="#2460d0" stroke-width="2.6" stroke-linecap="round"/>
<circle cx="1643.6" cy="12.3" r="4" fill="#f2f2ff" stroke="#2868d8" stroke-width="1.3"/>
<path d="M1661,17.5 C1660.5,13.5 1665,12.5 1668,12.8 C1672,13 1672,20.5 1667,20.8 L1664.6,21 L1663.4,23.2 L1663.2,20.6 C1662,20.2 1661.2,19.4 1661,17.5 Z" fill="#e4e6ee" stroke="#b0b0b0" stroke-width="1"/>
<circle cx="1674.5" cy="12.3" r="8.3" fill="url(#gred)"/>
<text x="1670.6" y="17" font-size="12.5" font-weight="bold" font-family="'Liberation Serif',serif" fill="#ffffff">1</text>
<text x="30.4" y="18.2" font-size="12.3" fill="#000" stroke="#000" stroke-width="0.2" textLength="37" lengthAdjust="spacingAndGlyphs">新订单</text>
<text x="182.6" y="18.1" font-size="12.3" fill="#000" stroke="#000" stroke-width="0.2" textLength="48" lengthAdjust="spacingAndGlyphs">自动交易</text>
<text x="927.4" y="19" font-size="10.2" fill="#404040" textLength="13.3" lengthAdjust="spacingAndGlyphs">M1</text>
<text x="955.6" y="19" font-size="10.2" fill="#404040" textLength="12.8" lengthAdjust="spacingAndGlyphs">M5</text>
<text x="981.6" y="19" font-size="10.2" fill="#404040" textLength="17.9" lengthAdjust="spacingAndGlyphs">M15</text>
<text x="1009.5" y="19" font-size="10.2" fill="#404040" textLength="18.2" lengthAdjust="spacingAndGlyphs">M30</text>
<text x="1040.6" y="19" font-size="10.2" fill="#404040" textLength="11.6" lengthAdjust="spacingAndGlyphs">H1</text>
<text x="1067.5" y="19" font-size="10.2" fill="#404040" textLength="12.5" lengthAdjust="spacingAndGlyphs">H4</text>
<text x="1096.5" y="19" font-size="10.2" fill="#404040" textLength="11.5" lengthAdjust="spacingAndGlyphs">D1</text>
<text x="1123.9" y="19" font-size="10.2" fill="#404040" textLength="14.6" lengthAdjust="spacingAndGlyphs">W1</text>
<text x="1150.7" y="19" font-size="10.2" fill="#404040" textLength="14.6" lengthAdjust="spacingAndGlyphs">MN</text>
</svg></div>
</body></html>
